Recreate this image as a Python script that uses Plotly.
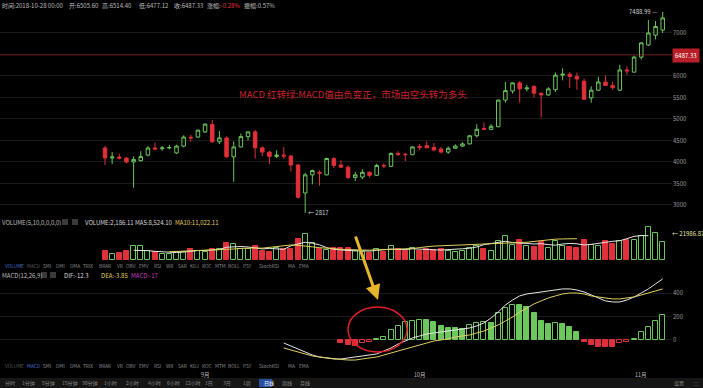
import pandas as pd
import plotly.graph_objects as go

W, H = 703, 388

# ---------------- data ----------------
dates = pd.date_range("2017-08-18", "2017-11-04", freq="D")

opens = [4325, 4095, 4115, 4090, 4000, 4030, 4160, 4325, 4310, 4330,
         4210, 4370, 4575, 4580, 4700, 4870, 4470, 4560, 4120, 4350,
         4590, 4700, 4330, 4230, 4130, 4160, 4140, 3930, 3280, 3700,
         3760, 3700, 4080, 3930, 3880, 3640, 3650, 3760, 3690, 3920,
         3900, 4200, 4180, 4170, 4360, 4380, 4340, 4300, 4230, 4320,
         4370, 4420, 4610, 4780, 4760, 4820, 5440, 5650, 5840, 5700,
         5760, 5600, 5560, 5680, 6020, 6040, 5990, 5880, 5490, 5670,
         5860, 5780, 5670, 6140, 6090, 6440, 6720, 6950, 7070]
highs = [4370, 4230, 4190, 4110, 4130, 4250, 4370, 4450, 4370, 4400,
         4400, 4620, 4630, 4750, 4900, 4980, 4720, 4600, 4480, 4660,
         4700, 4750, 4360, 4260, 4270, 4350, 4160, 3950, 3750, 3820,
         3800, 4100, 4110, 4040, 3920, 3770, 3830, 3780, 3960, 3970,
         4220, 4250, 4210, 4370, 4420, 4480, 4440, 4350, 4360, 4410,
         4460, 4630, 4880, 4920, 4880, 5450, 5860, 5850, 5880, 5790,
         5780, 5610, 5740, 6080, 6180, 6090, 6080, 5940, 5760, 5980,
         6010, 5870, 6260, 6220, 6470, 6780, 7300, 7280, 7488.99]
lows = [3930, 3950, 4060, 3970, 3400, 4010, 4130, 4290, 4260, 4300,
        4190, 4340, 4470, 4560, 4680, 4450, 4420, 4100, 3540, 4340,
        4500, 4080, 4130, 3950, 4090, 4080, 3780, 3150, 2817, 3480,
        3450, 3690, 3860, 3860, 3600, 3560, 3600, 3640, 3680, 3860,
        3880, 4140, 4020, 4160, 4270, 4320, 4250, 4200, 4190, 4310,
        4350, 4410, 4570, 4750, 4740, 4810, 5380, 5590, 5380, 5640,
        5500, 5040, 5540, 5630, 5900, 5720, 5680, 5440, 5380, 5650,
        5820, 5680, 5650, 6030, 6080, 6380, 6700, 6850, 7000]
closes = [4095, 4115, 4090, 4000, 4060, 4125, 4325, 4300, 4325, 4335,
          4370, 4580, 4560, 4740, 4880, 4470, 4560, 4120, 4350, 4590,
          4700, 4330, 4230, 4130, 4160, 4140, 3930, 3180, 3700, 3800,
          3740, 4080, 3920, 3880, 3640, 3700, 3760, 3690, 3920, 3910,
          4200, 4180, 4170, 4350, 4340, 4330, 4280, 4230, 4320, 4370,
          4420, 4610, 4760, 4760, 4830, 5440, 5660, 5840, 5700, 5720,
          5600, 5560, 5700, 6020, 6040, 5990, 5930, 5460, 5670, 5860,
          5780, 5730, 6140, 6120, 6440, 6770, 7000, 7150, 7350]

volumes = [7600, 4800, 5600, 7600, 11800, 11800, 7600, 7000, 4800, 4800,
           6800, 7000, 9000, 7600, 7000, 9000, 9600, 14600, 13200, 9000,
           9000, 11800, 7600, 7000, 10400, 9000, 9000, 17500, 21700, 14600,
           9000, 8200, 9900, 9900, 9900, 7500, 6500, 6000, 9000, 7000,
           12000, 9000, 8000, 10000, 8000, 9000, 8500, 9000, 8000, 7000,
           7500, 10000, 12000, 9000, 8000, 16000, 20000, 13000, 17000, 12000,
           11000, 15000, 10000, 16000, 12000, 11000, 10000, 17000, 13000, 12000,
           16000, 13500, 16000, 16900, 16900, 20300, 27900, 23000, 15500]
vol_ma5 = [8200, 8300, 7900, 7300, 7000, 6500, 6300, 6700, 7400, 8000,
           8100, 8600, 8800, 10800, 11100, 11400, 11000, 10300, 9400, 9800,
           9400, 9000, 12000, 13700, 15000, 14200, 12800, 10500, 9000, 8500,
           8000, 7700, 7800, 7500, 8200, 8600, 9200, 8900, 8800, 9500,
           9000, 8700, 8600, 8400, 8600, 9200, 9500, 9900, 11000, 13000,
           14000, 15000, 15800, 14700, 14600, 14000, 13500, 13800, 13000, 12500,
           13500, 14000, 13700, 12700, 13200, 13800, 14900, 15800, 16300, 18000,
           20000, 20600, 20500]
vol_ma10 = [7000, 7200, 7400, 7500, 7700, 8000, 8300, 8700, 9000, 9300,
            9800, 10100, 10200, 10000, 10600, 11600, 12200, 12700, 12400, 12000,
            11100, 10400, 10200, 9600, 9000, 8600, 8500, 8400, 8300, 8500,
            8700, 8900, 9000, 9300, 9700, 10500, 11300, 11800, 12000, 12200,
            12500, 13000, 13100, 13200, 13300, 13600, 13900, 13800, 14200, 14500,
            15000, 15700, 16500, 17200, 17600, 17800, 17900, 18000]

dif = [-26, -52, -77, -103, -129, -146, -155, -163, -163, -155,
       -146, -137, -129, -120, -94, -69, -34, -9, 17, 34,
       51, 60, 69, 77, 86, 94, 103, 120, 146, 189,
       240, 300, 343, 378, 395, 403, 412, 420, 429, 438,
       438, 429, 412, 386, 360, 335, 326, 326, 343, 369,
       403, 438, 481, 524]
dea = [-69, -86, -103, -120, -137, -146, -155, -163, -167, -172,
       -172, -163, -155, -146, -129, -112, -94, -77, -60, -43,
       -26, -9, 0, 9, 26, 34, 43, 60, 77, 103,
       129, 163, 197, 240, 275, 309, 335, 360, 378, 395,
       403, 403, 395, 378, 369, 360, 352, 352, 360, 369,
       386, 403, 420, 438]
macd_hist = [-29, -43, -49, -29, -17, 6, 25, 85, 118, 150,
             165, 175, 172, 150, 122, 105, 100, 92, 128, 148,
             150, 148, 228, 272, 300, 296, 285, 228, 166, 137,
             143, 137, 114, 71, -14, -43, -57, -58, -63, -29,
             -14, 5, 71, 114, 166, 214]

price_ticks = [3000, 3500, 4000, 4500, 5000, 5500, 6000, 6500, 7000]
macd_ticks = [0, 200, 400]
month_ticks = ["2017-09-01", "2017-10-01", "2017-11-01"]
month_labels = ["9月", "10月", "11月"]
last_close = 6487.33
vol_marker = 21986.87

tabs = ["VOLUME", "MACD", "SMI", "DMI", "DMA", "TRIX", "BRAR", "VR", "OBV", "EMV",
        "RSI", "WR", "SAR", "KDJ", "ROC", "MTM", "BOLL", "PSY", "StochRSI", "MA", "EMA"]
tab_x = [3, 25, 41, 54, 68, 81, 97, 115, 124, 137, 152, 164, 176, 188, 200, 213,
         226, 241, 257, 286, 297]
periods = ["分时", "1分钟", "5分钟", "15分钟", "30分钟", "1小时", "2小时", "4小时",
           "6小时", "12小时", "1日", "3日", "1周", "日线", "周线", "月线"]
period_x = [3, 20, 40, 60, 80, 102, 124, 146, 165, 183, 203, 221, 241, 262, 280, 298]

# ---------------- colours ----------------
UP = "#6cc75c"
DOWN = "#e0303a"
BG = "#000000"
GRID = "#1a1a1a"
TXT = "#9a9a9a"
FONT = "Noto Sans CJK SC"

# ---------------- geometry helpers ----------------
def py(p):
    return 1 - p / H

def px(p):
    return p / W

day_px = 7.15
x_end_px = 672
x0 = dates[0] - pd.Timedelta(days=105 / day_px)
x1 = x0 + pd.Timedelta(days=x_end_px / day_px)
day_ms = 86400000

up_flags = [c >= o for o, c in zip(opens, closes)]

fig = go.Figure()

# price candles
fig.add_trace(go.Candlestick(
    x=dates, open=opens, high=highs, low=lows, close=closes,
    increasing=dict(line=dict(color=UP, width=1), fillcolor="rgba(0,0,0,0)"),
    decreasing=dict(line=dict(color=DOWN, width=1), fillcolor=DOWN),
    whiskerwidth=0, xaxis="x", yaxis="y", showlegend=False, hoverinfo="skip"))

# volume bars
fig.add_trace(go.Bar(
    x=dates, y=volumes, width=0.7 * day_ms,
    marker=dict(color=["rgba(0,0,0,0)" if u else DOWN for u in up_flags],
                line=dict(color=[UP if u else DOWN for u in up_flags], width=1)),
    xaxis="x2", yaxis="y2", showlegend=False, hoverinfo="skip"))
fig.add_trace(go.Scatter(x=dates[4:], y=vol_ma5, mode="lines",
                         line=dict(color="#e8e8e8", width=1),
                         xaxis="x2", yaxis="y2", showlegend=False, hoverinfo="skip"))
fig.add_trace(go.Scatter(x=dates[9:], y=vol_ma10, mode="lines",
                         line=dict(color="#e0d060", width=1),
                         xaxis="x2", yaxis="y2", showlegend=False, hoverinfo="skip"))

# MACD histogram: filled when momentum weakens, hollow when it strengthens
hist_dates = dates[33:]
fills, lines_c = [], []
prev = 0
for v in macd_hist:
    col = UP if v >= 0 else DOWN
    growing = abs(v) > abs(prev) if (v >= 0) == (prev >= 0) else True
    if v >= 0:
        fills.append("rgba(0,0,0,0)" if growing else col)
    else:
        fills.append(col if growing else "rgba(0,0,0,0)")
    lines_c.append(col)
    prev = v
fig.add_trace(go.Bar(
    x=hist_dates, y=macd_hist, width=0.7 * day_ms,
    marker=dict(color=fills, line=dict(color=lines_c, width=1)),
    xaxis="x3", yaxis="y3", showlegend=False, hoverinfo="skip"))
fig.add_trace(go.Scatter(x=dates[25:], y=dif, mode="lines",
                         line=dict(color="#e6e6e6", width=1),
                         xaxis="x3", yaxis="y3", showlegend=False, hoverinfo="skip"))
fig.add_trace(go.Scatter(x=dates[25:], y=dea, mode="lines",
                         line=dict(color="#e0d060", width=1),
                         xaxis="x3", yaxis="y3", showlegend=False, hoverinfo="skip"))

# ---------------- axes ----------------
xdom = [0, x_end_px / W]
xcommon = dict(range=[x0, x1], domain=xdom, showgrid=False, zeroline=False,
               showticklabels=False, rangeslider=dict(visible=False), fixedrange=True)
# the last-close tag sits over the 6500 level, so that label is left blank
price_ticktext = ["" if abs(t - last_close) < 100 else str(t) for t in price_ticks]
fig.update_layout(
    xaxis=dict(**xcommon, anchor="y"),
    xaxis2=dict(**xcommon, anchor="y2", matches="x"),
    xaxis3=dict(**xcommon, anchor="y3", matches="x"),
    yaxis=dict(domain=[py(216), 1], range=[2744, 7767], side="right",
               tickvals=price_ticks, ticktext=price_ticktext,
               tickfont=dict(size=6, color=TXT, family=FONT),
               showgrid=True, gridcolor=GRID, gridwidth=1, zeroline=False,
               ticks="", anchor="x"),
    yaxis2=dict(domain=[py(260), py(224)], range=[0, 30420], side="right",
                showticklabels=False, showgrid=False, zeroline=False, anchor="x2"),
    yaxis3=dict(domain=[py(362), py(274)], range=[-189, 566], side="right",
                tickvals=macd_ticks, ticktext=[str(t) for t in macd_ticks],
                tickfont=dict(size=6, color=TXT, family=FONT),
                showgrid=True, gridcolor=GRID, zeroline=False, ticks="", anchor="x3"),
    bargap=0,
)

shapes = []
annotations = []

# last-close price line and tag
shapes.append(dict(type="line", xref="paper", yref="y", x0=0, x1=x_end_px / W,
                   y0=last_close, y1=last_close,
                   line=dict(color="rgba(190,30,40,0.5)", width=1)))
annotations.append(dict(xref="paper", yref="y", x=px(686), y=last_close,
                        text=f"{last_close:.2f}", showarrow=False,
                        font=dict(size=6, color="#ffffff", family=FONT),
                        bgcolor="#b81e28", borderpad=2, xanchor="center"))

# extremes
hi_i = highs.index(max(highs))
lo_i = lows.index(min(lows))
annotations.append(dict(xref="x", yref="y", x=dates[hi_i], y=highs[hi_i],
                        text=f"{highs[hi_i]:.2f} —", showarrow=False, xanchor="right",
                        xshift=-3, font=dict(size=6, color="#d0d0d0", family=FONT)))
annotations.append(dict(xref="x", yref="y", x=dates[lo_i], y=lows[lo_i],
                        text=f"← {lows[lo_i]:.0f}", showarrow=False, xanchor="left",
                        xshift=1, font=dict(size=6, color="#d0d0d0", family=FONT)))

# volume marker label
annotations.append(dict(xref="paper", yref="paper", x=px(670), y=py(233),
                        text=f"← {vol_marker:.2f}", showarrow=False, xanchor="left",
                        font=dict(size=6, color="#e8e0a0", family=FONT)))

def txt(x, y, s, color=TXT, size=6, anchor="left"):
    annotations.append(dict(xref="paper", yref="paper", x=px(x), y=py(y), text=s,
                            showarrow=False, xanchor=anchor, yanchor="middle",
                            font=dict(size=size, color=color, family=FONT)))

# header line
txt(0, 6, "时间:2018-10-28 00:00", "#bdbdbd")
txt(67, 6, "开:6505.60", "#bdbdbd")
txt(100, 6, "高:6514.40", "#bdbdbd")
txt(137, 6, "低:6477.12", "#bdbdbd")
txt(172, 6, "收:6487.33", "#bdbdbd")
txt(205, 6, "涨幅:<span style='color:#e0303a'>-0.28%</span>", "#bdbdbd")
txt(242, 6, "振幅:0.57%", "#bdbdbd")

# volume header
txt(0, 222, "VOLUME(5,10,0,0,0,0)", "#bdbdbd")
txt(83, 222, "VOLUME:2,186.11", "#d8d8d8")
txt(133, 222, "MA5:8,524.10", "#d8d8d8")
txt(173, 222, "MA10:11,022.11", "#e0d060")
for sx in (62, 72):
    shapes.append(dict(type="rect", xref="paper", yref="paper", x0=px(sx), x1=px(sx + 6),
                       y0=py(225), y1=py(219), fillcolor="#3a3a3a", line=dict(width=0)))

# MACD header
txt(0, 275, "MACD(12,26,9)", "#bdbdbd")
txt(62, 275, "DIF:-12.3", "#d8d8d8")
txt(99, 275, "DEA:-3.85", "#e0d060")
txt(129, 275, "MACD:-17", "#c040c0")
for sx in (41, 50):
    shapes.append(dict(type="rect", xref="paper", yref="paper", x0=px(sx), x1=px(sx + 6),
                       y0=py(278), y1=py(272), fillcolor="#3a3a3a", line=dict(width=0)))

# indicator tab rows
for row_y, active in ((265, "VOLUME"), (365, "MACD")):
    for name, tx in zip(tabs, tab_x):
        col = "#4a6fd0" if name == active else ("#5a5a5a" if name in ("VOLUME", "MACD") else "#8a8a8a")
        txt(tx, row_y, name, col, size=4.8)

# month labels on the time axis
for d, lab in zip(month_ticks, month_labels):
    annotations.append(dict(xref="x3", yref="paper", x=d, y=py(374.5), text=lab,
                            showarrow=False, yanchor="middle",
                            font=dict(size=5.5, color="#bdbdbd", family=FONT)))

# bottom period toolbar
shapes.append(dict(type="rect", xref="paper", yref="paper", x0=0, x1=1,
                   y0=0, y1=py(378), fillcolor="#161616", line=dict(width=0)))
shapes.append(dict(type="rect", xref="paper", yref="paper", x0=px(259), x1=px(272),
                   y0=py(387), y1=py(379), fillcolor="#2a4fa0", line=dict(width=0)))
for name, tx in zip(periods, period_x):
    col = "#ffffff" if name == "日线" else "#8a8a8a"
    txt(tx, 383, name, col, size=5)
txt(672, 383, "设置", "#8a8a8a", size=5)
txt(692, 383, "⛶", "#8a8a8a", size=5)

# commentary on the MACD cross
txt(237, 94, "MACD 红转绿:MACD值由负变正，市场由空头转为多头", "#c8222a", size=9.5)
shapes.append(dict(type="circle", xref="paper", yref="paper",
                   x0=px(348), x1=px(407), y0=py(352), y1=py(307),
                   line=dict(color="#e0202a", width=1.5)))
annotations.append(dict(xref="paper", yref="paper", x=px(378), y=py(300),
                        ax=-23, ay=-65, axref="pixel", ayref="pixel", text="",
                        showarrow=True, arrowhead=2, arrowsize=1, arrowwidth=3,
                        arrowcolor="#e6b52a"))

fig.update_layout(
    width=W, height=H, margin=dict(l=0, r=0, t=0, b=0),
    paper_bgcolor=BG, plot_bgcolor=BG, showlegend=False,
    shapes=shapes, annotations=annotations,
    font=dict(family=FONT, color=TXT),
)

fig.write_html("out.html")
